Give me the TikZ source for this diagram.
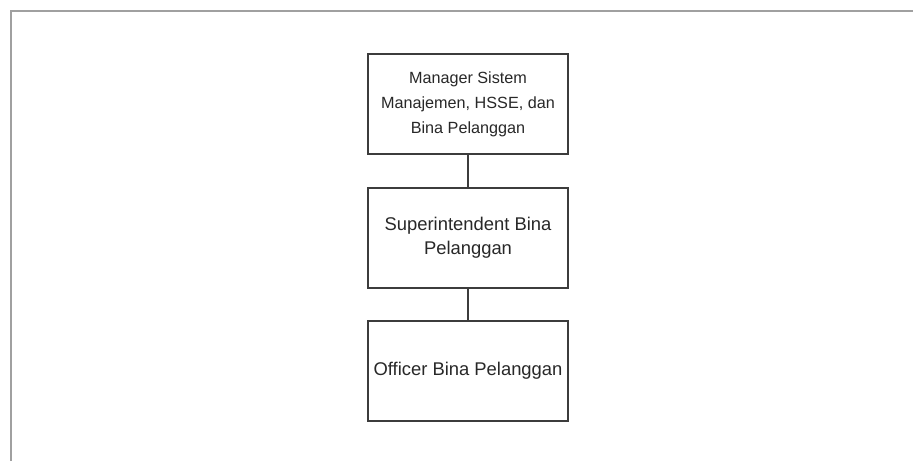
\documentclass[tikz,border=0pt]{standalone}
\usepackage{fontspec}
\setmainfont{Liberation Sans}
\definecolor{txt}{RGB}{40,40,40}
\definecolor{boxline}{RGB}{60,60,60}
\definecolor{frameline}{RGB}{160,160,160}
\begin{document}
\begin{tikzpicture}[x=1pt,y=-1pt,
  orgbox/.style={draw=boxline, line width=1.8pt, fill=white, minimum width=200pt, minimum height=100pt,
    inner sep=0pt, align=center, text=txt},
  link/.style={draw=boxline, line width=1.6pt}]
\useasboundingbox (0,0) rectangle (913,461);
\fill[white] (0,0) rectangle (913,461);
\coordinate (fbl) at (11,461);
\coordinate (ftl) at (11,11);
\coordinate (ftr) at (913,11);
\draw[frameline, line width=1.5pt] (fbl) -- (ftl) -- (ftr);
\node[orgbox, font=\fontsize{16.2}{25}\selectfont] (mgr) at (468,104) {Manager Sistem\\Manajemen, HSSE, dan\\Bina Pelanggan};
\node[orgbox, font=\fontsize{18.4}{24}\selectfont] (sup) at (468,238) {Superintendent Bina\\Pelanggan};
\node[orgbox, font=\fontsize{18.4}{24}\selectfont] (off) at (468,371) {Officer Bina Pelanggan};
\draw[link] (mgr.south) -- (sup.north);
\draw[link] (sup.south) -- (off.north);
\end{tikzpicture}
\end{document}
